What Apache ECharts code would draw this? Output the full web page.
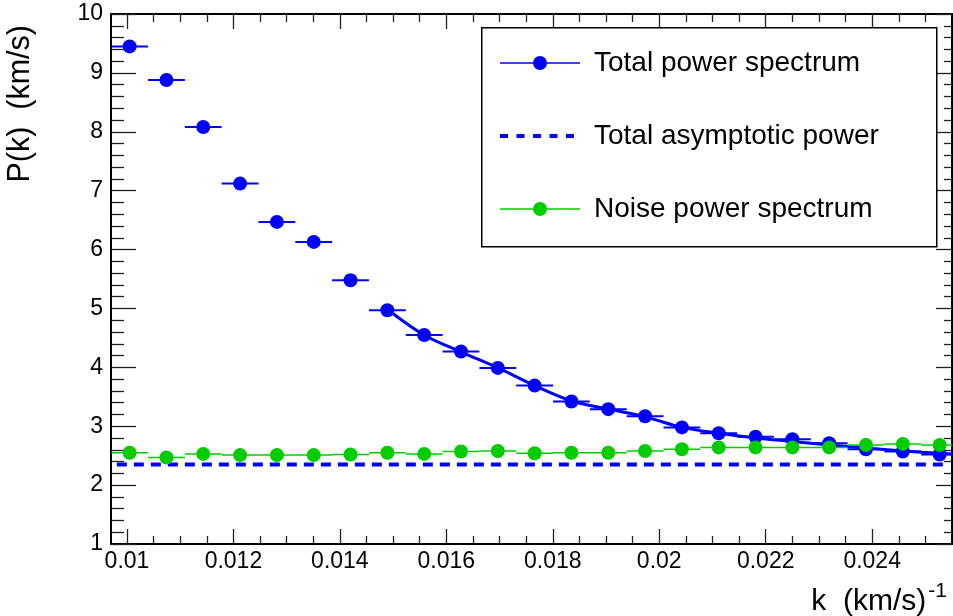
<!DOCTYPE html>
<html>
<head>
<meta charset="utf-8">
<script src="https://cdn.jsdelivr.net/npm/echarts@6/dist/echarts.min.js"></script>
<style>
html,body{margin:0;padding:0;background:#fff;}
#c{width:953px;height:616px;}
</style>
</head>
<body>
<div id="c"></div>
<script>
// ---- data ----
const kBins = [0.010050, 0.010742, 0.011433, 0.012125, 0.012817, 0.013509, 0.014200, 0.014892,
               0.015584, 0.016275, 0.016967, 0.017659, 0.018350, 0.019042, 0.019734, 0.020426,
               0.021117, 0.021809, 0.022501, 0.023192, 0.023884, 0.024576, 0.025268];
const kHalfWidth = 0.000346;
const totalPower = [9.45, 8.88, 8.08, 7.12, 6.47, 6.13, 5.48, 4.97,
                    4.55, 4.27, 3.99, 3.69, 3.42, 3.29, 3.17, 2.98,
                    2.88, 2.82, 2.78, 2.71, 2.61, 2.57, 2.52];
const noisePower = [2.55, 2.47, 2.53, 2.51, 2.51, 2.51, 2.52, 2.55,
                    2.53, 2.57, 2.58, 2.54, 2.55, 2.55, 2.58, 2.61,
                    2.64, 2.64, 2.64, 2.64, 2.68, 2.70, 2.68];
const fitK = [0.01497, 0.01558, 0.01628, 0.01697, 0.01766, 0.01835, 0.01904, 0.01973,
              0.02043, 0.02112, 0.02181, 0.02250, 0.02319, 0.02388, 0.02458, 0.02527, 0.02550];
const fitP = [4.93, 4.55, 4.26, 3.99, 3.69, 3.43, 3.29, 3.16,
              2.98, 2.88, 2.80, 2.74, 2.68, 2.63, 2.58, 2.54, 2.53];
const asymK = [0.00981, 0.02540];
const asymP = [2.35, 2.35];

const xMajorTicks = [0.010, 0.012, 0.014, 0.016, 0.018, 0.020, 0.022, 0.024];
const xTickLabels = ['0.01', '0.012', '0.014', '0.016', '0.018', '0.02', '0.022', '0.024'];
const xMinorTicks = [0.0105, 0.0110, 0.0115, 0.0125, 0.0130, 0.0135, 0.0145, 0.0150, 0.0155,
                     0.0165, 0.0170, 0.0175, 0.0185, 0.0190, 0.0195, 0.0205, 0.0210, 0.0215,
                     0.0225, 0.0230, 0.0235, 0.0245, 0.0250];
const seriesNames = ['Total power spectrum', 'Total asymptotic power', 'Noise power spectrum'];
const xTitle = 'k  (km/s)';
const xTitleSup = '-1';
const yTitle = 'P(k)  (km/s)';

// ---- chart ----
const FONT = '"Liberation Sans", Arial, Helvetica, sans-serif';
const BLUE = '#0000ff';
const GREEN = '#00cc00';
const zip = (a, b) => a.map((v, i) => [v, b[i]]);

const chart = echarts.init(document.getElementById('c'), null, {renderer: 'canvas'});

function errBar(color, width) {
  return function (params, api) {
    const k = api.value(0), p = api.value(1);
    const s = api.coord([k - kHalfWidth, p]);
    const e = api.coord([k + kHalfWidth, p]);
    return {type: 'line', shape: {x1: s[0], y1: s[1], x2: e[0], y2: e[1]},
            style: {stroke: color, lineWidth: width}};
  };
}

const axisLine = {show: true, onZero: false, lineStyle: {color: '#000', width: 2}};
const tickStyle = {color: '#222', width: 1.3};
const xBase = {type: 'value', min: 0.0097, max: 0.0255, splitLine: {show: false}};
const yBase = {type: 'value', min: 1, max: 10, interval: 1, splitLine: {show: false}};

const option = {
  animation: false,
  backgroundColor: '#fff',
  grid: {left: 111, right: 1, top: 14, bottom: 72, containLabel: false},
  title: {
    text: '{a|' + xTitle + '}{b|' + xTitleSup + '}',
    right: 1, top: 576, padding: 5,
    textStyle: {
      fontWeight: 'normal',
      rich: {
        a: {fontSize: 30, fontFamily: FONT, fontWeight: 'normal', color: '#000', lineHeight: 36, verticalAlign: 'bottom'},
        b: {fontSize: 21, fontFamily: FONT, fontWeight: 'normal', color: '#000', lineHeight: 36, verticalAlign: 'top', padding: [0, 0, 0, 2]}
      }
    }
  },
  xAxis: [
    Object.assign({}, xBase, {
      position: 'bottom', axisLine: axisLine,
      axisTick: {show: true, inside: true, length: 15, customValues: xMajorTicks, lineStyle: tickStyle},
      axisLabel: {show: true, customValues: xMajorTicks, margin: 6, fontSize: 23, fontFamily: FONT, color: '#000',
        formatter: function (v) {
          const i = xMajorTicks.findIndex(t => Math.abs(t - v) < 1e-9);
          return i >= 0 ? xTickLabels[i] : '';
        }}
    }),
    Object.assign({}, xBase, {
      position: 'bottom', axisLine: {show: false},
      axisTick: {show: true, inside: true, length: 8, customValues: xMinorTicks, lineStyle: tickStyle},
      axisLabel: {show: false}
    }),
    Object.assign({}, xBase, {
      position: 'top', axisLine: axisLine,
      axisTick: {show: true, inside: true, length: 15, customValues: xMajorTicks, lineStyle: tickStyle},
      axisLabel: {show: false}
    }),
    Object.assign({}, xBase, {
      position: 'top', axisLine: {show: false},
      axisTick: {show: true, inside: true, length: 8, customValues: xMinorTicks, lineStyle: tickStyle},
      axisLabel: {show: false}
    })
  ],
  yAxis: [
    Object.assign({}, yBase, {
      position: 'left', axisLine: axisLine,
      axisTick: {show: true, inside: true, length: 25, lineStyle: tickStyle},
      minorTick: {show: true, splitNumber: 5, length: 13, lineStyle: tickStyle},
      axisLabel: {show: true, margin: 8, fontSize: 23, fontFamily: FONT, color: '#000'}
    }),
    Object.assign({}, yBase, {
      position: 'right', axisLine: axisLine,
      axisTick: {show: true, inside: true, length: 16, lineStyle: tickStyle},
      minorTick: {show: true, splitNumber: 5, length: 8, lineStyle: tickStyle},
      axisLabel: {show: false}
    })
  ],
  legend: {
    orient: 'vertical', left: 498, top: 48, padding: 0, z: 20,
    itemWidth: 80, itemHeight: 17.5, itemGap: 43, selectedMode: false,
    textStyle: {fontSize: 28, fontFamily: FONT, color: '#000', lineHeight: 30, padding: [0, 0, 0, 9]},
    data: [
      {name: seriesNames[0], lineStyle: {opacity: 1, width: 1.5, color: BLUE}},
      {name: seriesNames[1], itemStyle: {opacity: 0}, lineStyle: {opacity: 1, width: 4, color: BLUE, type: [8, 8.5]}},
      {name: seriesNames[2], lineStyle: {opacity: 1, width: 1.5, color: GREEN}}
    ]
  },
  graphic: [
    {type: 'rect', left: 481, top: 27, z: 15,
     shape: {width: 455, height: 219},
     style: {fill: '#fff', stroke: '#000', lineWidth: 1.5}},
    {type: 'text', x: 21, y: 25, rotation: Math.PI / 2, z: 15,
     style: {text: yTitle, fontSize: 30.5, fontFamily: FONT, fill: '#000', align: 'right', verticalAlign: 'middle'}}
  ],
  series: [
    {type: 'custom', name: 'totalErr', renderItem: errBar(BLUE, 2), clip: true,
     data: zip(kBins, totalPower), z: 2, silent: true},
    {type: 'line', name: seriesNames[0], data: zip(kBins, totalPower),
     symbol: 'circle', symbolSize: 14, showSymbol: true, showAllSymbol: true,
     itemStyle: {color: BLUE}, lineStyle: {width: 1.5, opacity: 0}, z: 3, silent: true},
    {type: 'line', name: 'fit', data: zip(fitK, fitP), smooth: 0.35, symbol: 'none',
     lineStyle: {color: BLUE, width: 3}, itemStyle: {color: BLUE}, z: 4, silent: true},
    {type: 'line', name: seriesNames[1], data: zip(asymK, asymP), symbol: 'none',
     lineStyle: {color: BLUE, width: 4, type: [10, 7]}, itemStyle: {color: BLUE}, z: 4, silent: true},
    {type: 'custom', name: 'noiseErr', renderItem: errBar(GREEN, 1.5), clip: true,
     data: zip(kBins, noisePower), z: 5, silent: true},
    {type: 'line', name: seriesNames[2], data: zip(kBins, noisePower),
     symbol: 'circle', symbolSize: 14, showSymbol: true, showAllSymbol: true,
     itemStyle: {color: GREEN}, lineStyle: {width: 1.5, opacity: 0}, z: 6, silent: true}
  ]
};
chart.setOption(option);
</script>
</body>
</html>
